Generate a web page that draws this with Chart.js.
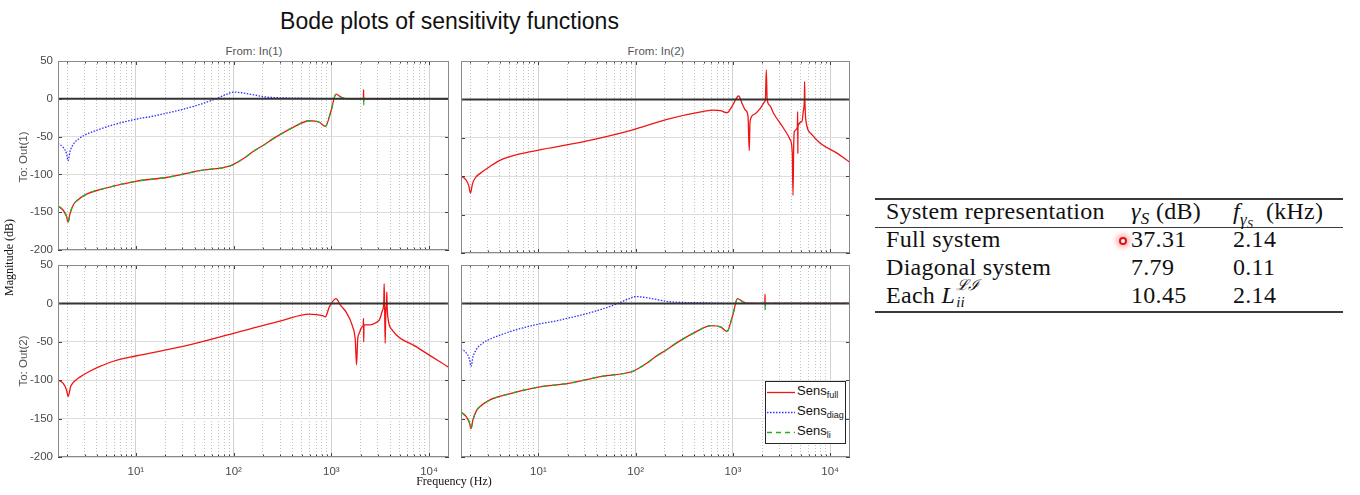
<!DOCTYPE html>
<html><head><meta charset="utf-8">
<script src="https://cdn.jsdelivr.net/npm/chart.js@4.4.0/dist/chart.umd.min.js"></script>
<style>
html,body{margin:0;padding:0;background:#fff;}
body{width:1360px;height:495px;overflow:hidden;position:relative;font-family:"Liberation Sans",Arial,sans-serif;}
canvas{position:absolute;}
.abs{position:absolute;white-space:nowrap;}
.rot{position:absolute;white-space:nowrap;text-align:center;transform:rotate(-90deg);transform-origin:50% 50%;}
.tx{position:absolute;white-space:nowrap;font-family:"Liberation Serif","Times New Roman",serif;font-size:24px;line-height:24px;letter-spacing:0.3px;color:#111;}
.rule{position:absolute;left:875px;width:468px;background:#3a3a3a;}
.lg{position:absolute;font-size:13px;line-height:13px;color:#111;}
.lg sub{font-size:9px;position:relative;top:3px;vertical-align:baseline;line-height:0;}
i{font-style:italic;}
</style></head><body>

<div class="abs" style="left:0;width:899px;top:10px;text-align:center;font-size:23px;line-height:23px;color:#111;">Bode plots of sensitivity functions</div>
<div class="abs" style="left:154px;width:200px;top:45px;text-align:center;font-size:11.5px;line-height:12px;color:#555;">From: In(1)</div>
<div class="abs" style="left:556px;width:200px;top:45px;text-align:center;font-size:11.5px;line-height:12px;color:#555;">From: In(2)</div>

<canvas id="c11" width="460" height="222" style="left:0;top:40px;width:460px;height:222px"></canvas>
<canvas id="c12" width="410" height="222" style="left:450px;top:40px;width:410px;height:222px"></canvas>
<canvas id="c21" width="460" height="240" style="left:0;top:244px;width:460px;height:240px"></canvas>
<canvas id="c22" width="410" height="240" style="left:450px;top:244px;width:410px;height:240px"></canvas>

<div class="rot" style="left:-27px;top:150px;width:100px;height:14px;line-height:14px;font-size:11.5px;color:#555;">To: Out(1)</div>
<div class="rot" style="left:-27px;top:354px;width:100px;height:14px;line-height:14px;font-size:11.5px;color:#555;">To: Out(2)</div>
<div class="rot" style="left:-41px;top:251px;width:100px;height:13px;line-height:13px;font-size:12px;color:#111;font-family:'Liberation Serif',serif;">Magnitude (dB)</div>
<div class="abs" style="left:354px;width:200px;top:475px;text-align:center;font-size:12px;line-height:12px;color:#111;font-family:'Liberation Serif',serif;">Frequency (Hz)</div>

<!-- legend -->
<div class="abs" style="left:765px;top:381px;width:79px;height:61px;border:1px solid #262626;background:#fff;"></div>
<svg class="abs" style="left:766px;top:382px;" width="32" height="60">
  <line x1="1" y1="10.5" x2="29" y2="10.5" stroke="#f01414" stroke-width="1.3"/>
  <line x1="1" y1="30.5" x2="29" y2="30.5" stroke="#3030ff" stroke-width="1.3" stroke-dasharray="1.5 1.5"/>
  <line x1="1" y1="50.5" x2="29" y2="50.5" stroke="#20b020" stroke-width="1.3" stroke-dasharray="5 4"/>
</svg>
<div class="lg" style="left:797px;top:384px;">Sens<sub>full</sub></div>
<div class="lg" style="left:797px;top:404px;">Sens<sub>diag</sub></div>
<div class="lg" style="left:797px;top:424px;">Sens<sub>li</sub></div>

<!-- table -->
<div class="rule" style="top:198px;height:1.5px;"></div>
<div class="rule" style="top:227px;height:1px;"></div>
<div class="rule" style="top:311px;height:1.5px;"></div>
<div class="tx" style="left:886px;top:199px;">System representation</div>
<div class="tx" style="left:1131px;top:199px;"><i>γ</i><span style="font-size:17px;position:relative;top:5px;"><i>S</i></span>&nbsp;(dB)</div>
<div class="tx" style="left:1233px;top:199px;"><i>f</i><span style="font-size:17px;position:relative;top:6px;"><i>γ</i><span style="font-size:12px;position:relative;top:3px;"><i>S</i></span></span>&nbsp;&nbsp;(kHz)</div>
<div class="tx" style="left:886px;top:227px;">Full system</div>
<div class="tx" style="left:1131px;top:227px;">37.31</div>
<div class="tx" style="left:1233px;top:227px;">2.14</div>
<div class="tx" style="left:886px;top:255px;">Diagonal system</div>
<div class="tx" style="left:1131px;top:255px;">7.79</div>
<div class="tx" style="left:1233px;top:255px;">0.11</div>
<div class="tx" style="left:886px;top:283px;">Each <i>L</i><span style="position:relative;display:inline-block;width:24px;height:1px;"><span style="position:absolute;left:1px;top:-24px;font-size:15px;line-height:15px;font-style:italic;">ℒℐ</span><span style="position:absolute;left:1px;top:-7px;font-size:15px;line-height:15px;font-style:italic;">ii</span></span></div>
<div class="tx" style="left:1131px;top:283px;">10.45</div>
<div class="tx" style="left:1233px;top:283px;">2.14</div>
<div class="abs" style="left:1119px;top:237px;width:4px;height:4px;border:2px solid #e41010;border-radius:50%;background:#fff;box-shadow:0 0 5px 3px rgba(255,90,90,0.45);"></div>

<script>
// ---- axes ----
const freqMin = 1.6;
const freqMax = 16000;
const xTickValues = [2,3,4,5,6,7,8,9,10,20,30,40,50,60,70,80,90,100,200,300,400,500,600,700,800,900,1000,2000,3000,4000,5000,6000,7000,8000,9000,10000];
const decadeLabels = {10:'10\u00b9',100:'10\u00b2',1000:'10\u00b3',10000:'10\u2074'};
const yTickValues = [-200,-150,-100,-50,0,50];
const zeroFreq = [1.6,16000];
const zeroDb = [0,0];

// ---- diagonal blocks (Out(1)<-In(1) and Out(2)<-In(2)) ----
const diagFreq = [1.6,1.8,1.95,2.03,2.12,2.3,2.6,3.0,4.3,6.0,10,15,20.5,30,45,66,85,100,120,157,215,300,470,700,1000,1300,16000];
const sensDiagDb = [-59,-64,-72,-82,-70,-60,-53,-48,-40,-34,-27,-23,-19,-14,-7.5,0,6,8.9,8,5.5,2.4,1.3,0.8,0.3,0,0,0];

const blockFreq = [1.6,1.8,1.95,2.03,2.12,2.3,2.48,3.14,4.3,10,20.5,45,91,100,130,157,210,252,403,597,755,869,993,1117,1256,1400,2000,2130,2140,2148,2160,16000];
const sensFullBlockDb = [-141.6,-147,-155,-163,-152,-140,-135,-126,-120,-109,-104,-95,-89,-86.7,-78,-70,-60,-53,-38,-29,-31,-36.5,-16,6.3,2.4,0.3,0,0,12,-3,0,0];
const sensLiBlockDb   = [-141.6,-147,-155,-163,-152,-140,-135,-126,-120,-109,-104,-95,-89,-86.7,-78,-70,-60,-53,-38,-29,-31,-36.5,-16,6.3,2.4,0.3,0,0,3,-8.6,0,0];

// ---- off-diagonal Out(1)<-In(2) ----
const full12Freq = [1.6,1.78,1.92,2.0,2.1,2.25,2.54,3.2,4.07,6,10,29.3,91.8,210,500,634,743,869,1000,1146,1250,1340,1430,1473,1500,1635,1914,2120,2160,2205,2250,2400,2618,3318,3890,4080,4150,4220,4275,4600,4635,4650,4670,5130,5300,5430,5460,5500,5560,5620,6500,7910,11750,16000];
const sensFull12Db = [-99.7,-104,-112,-122,-110,-102,-96,-87,-79,-72,-66,-55,-40,-26,-15.6,-14,-14.5,-17.3,-7,4.4,-6,-13.8,-22,-66.8,-29,-20,-11.6,-3,0,38.3,0,-8,-18,-37.6,-52.9,-70,-125,-60,-42,-36,-16,-70,-35,-29,-15,0,23,0,-18,-26.8,-46,-57,-70,-82];

// ---- off-diagonal Out(2)<-In(1) ----
const full21Freq = [1.6,1.81,1.96,2.03,2.16,2.33,2.68,3.3,4.3,6,10,30.4,100,318,597,815,869,955,1117,1250,1413,1650,1760,1813,1860,1930,2090,2120,2135,2145,2160,2260,3090,3340,3440,3475,3510,3556,3610,3680,3700,3720,3785,4224,7310,16000];
const sensFull21Db = [-99.7,-104,-113,-121,-108,-102,-96,-89,-82,-75,-68.5,-56,-39,-22,-14,-16,-17.5,-4.5,6.3,-3,-11,-30,-48,-80,-48,-39,-30,-29,-19.6,-50,-28,-28,-22,-9,0,25.8,0,-52,-10,0,15,0,-17.5,-35,-56,-83.5];

// ---- styles ----
const RED = '#f01414', BLUE = '#3030ff', GREEN = '#20b020';

function pts(fs, ds){ return fs.map((f,i)=>({x:f,y:ds[i]})); }

function zeroSet(){ return {data:pts(zeroFreq,zeroDb), borderColor:'#333333', borderWidth:2, order:1}; }
function fullSet(fs,ds){ return {data:pts(fs,ds), borderColor:RED, borderWidth:1.3, order:4}; }
function liSet(fs,ds){ return {data:pts(fs,ds), borderColor:GREEN, borderWidth:1.3, borderDash:[5,5], order:3}; }
function diagSet(fs,ds){ return {data:pts(fs,ds), borderColor:BLUE, borderWidth:1.3, borderDash:[1.5,1.5], order:5}; }

const framePlugin = {
  id:'frame',
  afterDatasetsDraw(chart){
    const {ctx, chartArea:a, scales:{x,y}} = chart;
    ctx.save();
    ctx.strokeStyle = '#444'; ctx.lineWidth = 1;
    ctx.beginPath();
    xTickValues.forEach(v=>{
      const px = Math.round(x.getPixelForValue(v))+0.5;
      const len = decadeLabels[v] ? 4 : 2.5;
      ctx.moveTo(px,a.bottom); ctx.lineTo(px,a.bottom-len);
      ctx.moveTo(px,a.top); ctx.lineTo(px,a.top+len);
    });
    yTickValues.forEach(v=>{
      const py = Math.round(y.getPixelForValue(v))+0.5;
      ctx.moveTo(a.left,py); ctx.lineTo(a.left+4,py);
      ctx.moveTo(a.right,py); ctx.lineTo(a.right-4,py);
    });
    ctx.stroke();
    ctx.strokeStyle = '#8a8a8a';
    ctx.strokeRect(Math.round(a.left)+0.5, Math.round(a.top)+0.5, Math.round(a.right-a.left)-1, Math.round(a.bottom-a.top)-1);
    ctx.restore();
  }
};

function makePanel(id, datasets, showX, showY, yWidth, padRight, xHeight){
  new Chart(document.getElementById(id), {
    type:'line',
    data:{datasets},
    plugins:[framePlugin],
    options:{
      responsive:false, animation:false, devicePixelRatio:1, events:[],
      layout:{padding:{top:21, right:padRight, left:0, bottom:0}},
      elements:{point:{radius:0}, line:{tension:0, cubicInterpolationMode:'monotone', fill:false}},
      plugins:{legend:{display:false}, tooltip:{enabled:false}, title:{display:false}},
      scales:{
        x:{
          type:'logarithmic', min:freqMin, max:freqMax,
          afterBuildTicks:s=>{ s.ticks = xTickValues.map(v=>({value:v})); },
          afterFit:s=>{ s.height = xHeight; },
          ticks:{display:showX, autoSkip:false, maxRotation:0, minRotation:0, padding:8,
                 font:{family:'Liberation Sans', size:11.5}, color:'#4a4a4a',
                 callback:(v)=> decadeLabels[v] || ''},
          grid:{drawTicks:false, lineWidth:1,
                color:c=> (c.tick && decadeLabels[c.tick.value]) ? '#d2d2d2' : '#c4c4c4'},
          border:{display:false, dash:c=> (c.tick && !decadeLabels[c.tick.value]) ? [1,2] : []}
        },
        y:{
          min:-200, max:50,
          afterBuildTicks:s=>{ s.ticks = yTickValues.map(v=>({value:v})); },
          afterFit:s=>{ s.width = yWidth; },
          ticks:{display:showY, padding:5, font:{family:'Liberation Sans', size:11.5}, color:'#4a4a4a',
                 callback:(v)=> String(v)},
          grid:{drawTicks:false, lineWidth:1, color:'#dcdcdc'},
          border:{display:false}
        }
      }
    }
  });
}

makePanel('c11', [zeroSet(), liSet(blockFreq,sensLiBlockDb), fullSet(blockFreq,sensFullBlockDb), diagSet(diagFreq,sensDiagDb)], false, true, 58, 11, 9);
makePanel('c12', [zeroSet(), fullSet(full12Freq,sensFull12Db)], false, false, 11, 10, 9);
makePanel('c21', [zeroSet(), fullSet(full21Freq,sensFull21Db)], true, true, 58, 11, 27);
makePanel('c22', [zeroSet(), liSet(blockFreq,sensLiBlockDb), fullSet(blockFreq,sensFullBlockDb), diagSet(diagFreq,sensDiagDb)], true, false, 11, 10, 27);
</script>
</body></html>
